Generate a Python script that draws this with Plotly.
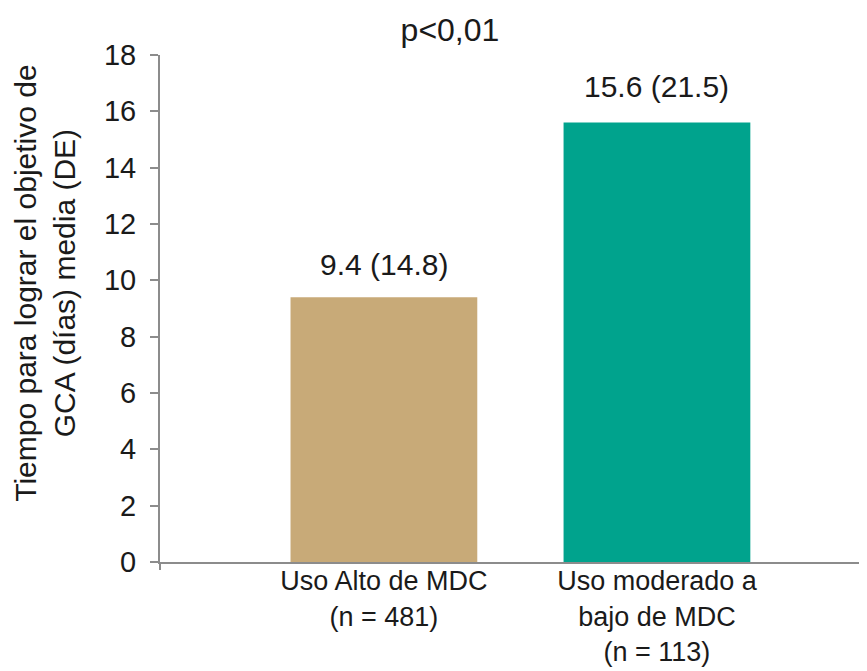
import plotly.graph_objects as go

categories = ["Uso Alto de MDC<br>(n = 481)", "Uso moderado a<br>bajo de MDC<br>(n = 113)"]
means = [9.4, 15.6]
sds = [14.8, 21.5]
colors = ["#C8AA78", "#00A38D"]
y_ticks = [0, 2, 4, 6, 8, 10, 12, 14, 16, 18]
y_title = "Tiempo para lograr el objetivo de<br>GCA (días) media (DE)"
p_text = "p<0,01"

FONT = "Arial, 'Liberation Sans', sans-serif"
TXT = "#1a1a1a"

fig = go.Figure()
fig.add_trace(go.Bar(
    x=[0, 1], y=means, width=0.684,
    marker=dict(color=colors, line=dict(width=0)),
    showlegend=False, hoverinfo="skip",
))

for i, (m, s) in enumerate(zip(means, sds)):
    fig.add_annotation(x=i, y=m, text=f"{m} ({s})", showarrow=False,
                       yanchor="bottom", yshift=14 + 4 * i,
                       font=dict(family=FONT, size=30, color=TXT))

fig.add_annotation(xref="paper", yref="paper", x=-0.165, y=0.55,
                   text=y_title, textangle=-90, showarrow=False,
                   xanchor="center", yanchor="middle",
                   font=dict(family=FONT, size=30, color=TXT))

fig.update_layout(
    width=867, height=671,
    margin=dict(l=160, r=8, t=55, b=109),
    paper_bgcolor="white", plot_bgcolor="white",
    font=dict(family=FONT, size=30, color=TXT),
    title=dict(text=p_text, x=0.519, xanchor="center", y=0.955, yanchor="middle",
               font=dict(family=FONT, size=32, color=TXT)),
)
fig.update_xaxes(
    range=[-0.82, 1.74], tickvals=[0, 1], ticktext=categories,
    showline=True, linecolor="#8c8c8c", linewidth=2, ticks="",
    showgrid=False, zeroline=False, automargin=False,
    ticklabelstandoff=-6,
    tickfont=dict(family=FONT, size=27, color=TXT),
)
fig.update_yaxes(
    range=[0, 18], tickvals=y_ticks, ticktext=[str(v) for v in y_ticks],
    showline=True, linecolor="#8c8c8c", linewidth=2,
    ticks="outside", ticklen=8, tickcolor="#8c8c8c", tickwidth=1.5,
    showgrid=False, zeroline=False, automargin=False,
    ticklabelstandoff=8,
    tickfont=dict(family=FONT, size=29, color=TXT),
)
fig.add_shape(type="line", xref="paper", yref="paper", x0=0, x1=0, y0=0, y1=-0.016,
              line=dict(color="#8c8c8c", width=2))

fig.write_html("out.html")
